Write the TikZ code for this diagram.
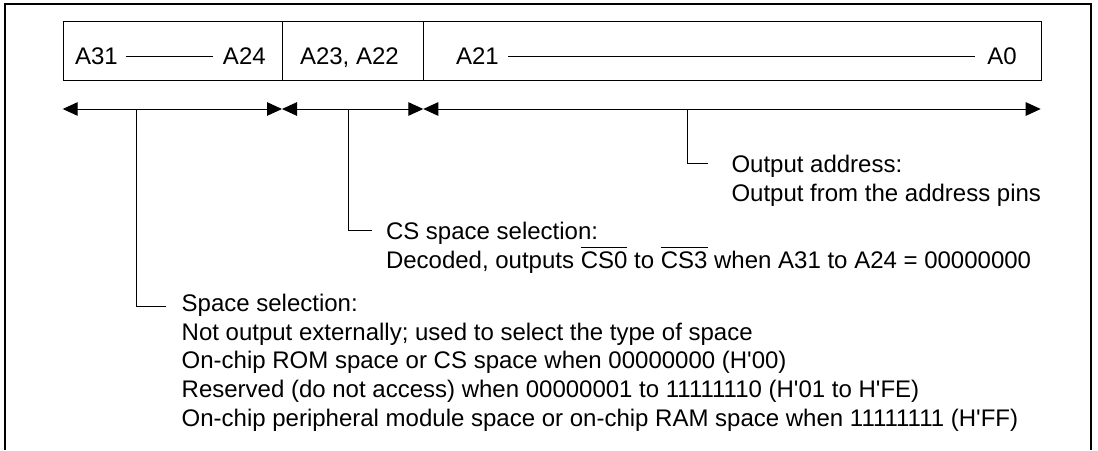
\documentclass[tikz,border=0pt]{standalone}
\usepackage{fontspec}
\setmainfont{Liberation Sans}
\usetikzlibrary{arrows.meta}
\newcommand\barred[1]{\leavevmode\vbox{\hrule height 0.9pt\kern 3pt\hbox{#1}}}
\newcommand\apos{\textquotesingle}
\begin{document}
\begin{tikzpicture}[x=1pt,y=-1pt, line width=1pt,
  txt/.style={anchor=base west, inner sep=0pt, outer sep=0pt, font=\fontsize{24}{29}\selectfont},
  cell/.style={draw, line width=1pt, minimum height=59pt, inner sep=0pt, anchor=north west},
  dim/.style={{Triangle[length=15pt,width=13.5pt]}-{Triangle[length=15pt,width=13.5pt]}},
  lead/.style={line width=1pt}]
\useasboundingbox (0,0) rectangle (1098,450);
\draw[line width=1.2pt] (5,450) -- (5,4) -- (1091,4) -- (1091,450);
% register cells
\node[cell, minimum width=219.3pt] (c1) at (62.7,21) {};
\node[cell, minimum width=141.3pt] (c2) at (282,21) {};
\node[cell, minimum width=617.4pt] (c3) at (423.3,21) {};
\node[txt] (a31) at (75,64) {A31};
\node[txt, anchor=base east] (a24) at (265.7,64) {A24};
\node[txt] (a2322) at (300,64) {A23, A22};
\node[txt] (a21) at (456,64) {A21};
\node[txt, anchor=base east] (a0) at (1016.7,64) {A0};
\draw (126,56.5) -- (212.7,56.5);
\draw (508.3,56.5) -- (975,56.5);
% dimension arrows
\coordinate (p0) at (62.7,109);
\coordinate (p1) at (282,109);
\coordinate (p2) at (423.3,109);
\coordinate (p3) at (1040.7,109);
\draw[dim] (p0) -- (p1);
\draw[dim] (p1) -- (p2);
\draw[dim] (p2) -- (p3);
% leaders
\coordinate (s0) at (136,109);
\coordinate (s1) at (166,306.7);
\coordinate (t0) at (348,109);
\coordinate (t1) at (372,230.5);
\coordinate (u0) at (687.7,109);
\coordinate (u1) at (708.3,163.3);
\draw[lead] (s0) |- (s1);
\draw[lead] (t0) |- (t1);
\draw[lead] (u0) |- (u1);
% texts
\node[txt] (oa1) at (731.5,172.3) {Output address:};
\node[txt] (oa2) at (731.5,201) {Output from the address pins};
\node[txt] (cs1) at (386,239) {CS space selection:};
\node[txt] (cs2) at (386,268) {Decoded, outputs \barred{CS0} to \barred{CS3} when A31 to A24 = 00000000};
\node[txt] (ss1) at (181.7,311) {Space selection:};
\node[txt] (ss2) at (181.7,340) {Not output externally; used to select the type of space};
\node[txt] (ss3) at (181.7,368.5) {On-chip ROM space or CS space when 00000000 (H\apos00)};
\node[txt] (ss4) at (181.7,397.5) {Reserved (do not access) when 00000001 to 11111110 (H\apos01 to H\apos FE)};
\node[txt] (ss5) at (181.7,426.5) {On-chip peripheral module space or on-chip RAM space when 11111111 (H\apos FF)};
\end{tikzpicture}
\end{document}
